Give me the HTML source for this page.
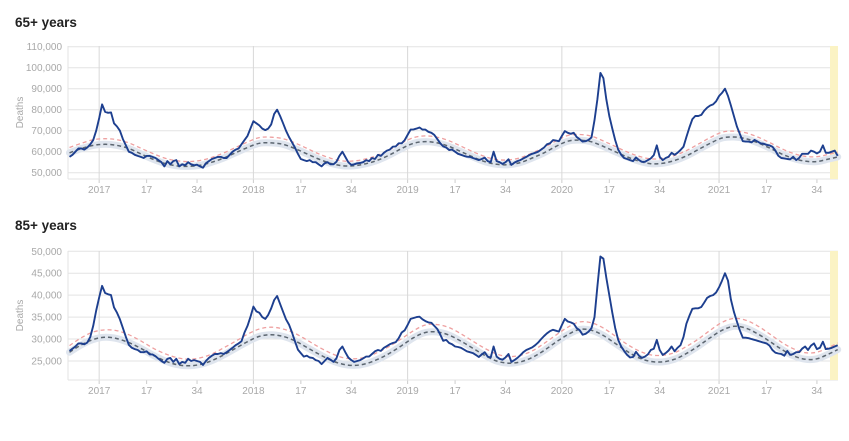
<!DOCTYPE html>
<html><head><meta charset="utf-8">
<style>
html,body{margin:0;padding:0;background:#fff;width:849px;height:441px;overflow:hidden}
svg{display:block;font-family:"Liberation Sans",sans-serif}
</style></head>
<body>
<svg id="chart" width="849" height="441" viewBox="0 0 849 441" xmlns="http://www.w3.org/2000/svg">
  <text x="15" y="27" font-size="13.5" font-weight="bold" fill="#222">65+ years</text>
  <text x="15" y="230" font-size="13.5" font-weight="bold" fill="#222">85+ years</text>
  <g id="p1"></g>
  <g id="p2"></g>
</svg>
<script>
// ---- data (weekly, thousands of deaths; index 0 ≈ 2016 week 42) ----
const yearLabels = ["2017","2018","2019","2020","2021"];
const yearStartIdx = [10,62,114,166,219];
const weekTickLabels = ["17","34"];
const weekTickOffsets = [16,33];

const deaths65 = [57.5,58.5,60,61.5,61.5,61,62,63.5,65.5,70,76,82.5,79,78.5,78.7,73.5,72,70,66,63,60,59.5,58.5,58,57.5,57,58,58,57.5,57,56,55,53,55.5,54,55.5,56,53,54,53.5,55,54,53.5,53.8,53,52.4,54.5,55.5,56.5,57,57.5,57.5,57,57,58.5,60,61,61.5,63.5,65.5,67.5,71,74.5,73.5,72.5,71,70.3,71,73,78,80,77,73.5,70,67,64.5,62,59,56.5,56,55.5,56,55,55,54,53,54.5,55,54,54,55.2,58,60,57.5,55,53.7,54,54.5,54.6,55,56,55.5,57,56.5,58.5,58,59.5,60.5,61,62.4,62.5,64,64,65.5,68,70.5,70.6,71,71.5,70.5,70.5,69.5,69,68,66,64,62.5,62,60.8,61,60,59,58.5,58,57.6,57.5,57,56.5,56,56.5,57.2,55.5,55,60,55.5,55,54.2,55,56.4,53.7,54.8,55.5,56,56.8,57.5,58.4,59,59.5,60,61,62,63.5,64,65.5,65.3,65,67.5,69.8,69,68.5,69,67,65.9,64.8,65,65.6,66.8,75,85,97.5,95,85,77,71,65.5,61,58.5,57,56.5,56,55.5,57.3,56,55.2,55.2,56,56.8,58.4,63,57.5,56,57,57.6,59.5,58.5,59.5,60.8,62.4,67,71.5,75.5,77,77,77.5,79.5,81,82,82.5,84,86.5,88,90,86.5,82,77,72,68.5,65,64.8,64.8,64.5,65.6,64.8,64,63.8,63.3,63,62.4,60.5,58,57,56.8,56.5,56.4,57.6,56,57,59,59,59,60.5,60,59.2,60,63,59.5,59.5,60,60.5,58];
const baselineIdx = [0,4,8,12,16,20,24,28,32,36,40,44,48,52,56,60,64,68,72,76,80,84,88,92,96,100,104,108,112,116,120,124,128,132,136,140,144,148,152,156,160,164,168,172,176,180,184,188,192,196,200,204,208,212,216,220,224,228,232,236,240,244,248,252,256,259];
const baseline65 = [59.5,61.5,63,63.5,63,61.5,59,56.5,54.5,53.3,53,53.5,55,57,59.5,62,64,64.2,63.5,61.5,59,56.5,54.5,53.3,53.3,54.3,56,58.5,61.5,64,64.8,64.2,62.5,60,57.5,55.3,54,53.8,54.8,57,59.5,62.5,65,65.5,64.7,62.5,60,57.5,55.5,54.3,54.5,55.8,58,61,64,66.5,67,66.2,64.3,61.8,59,56.8,55.5,55.3,56.5,57.5];
const upper65 = [62,64,65.7,66.2,65.7,64.2,61.7,59.2,57,55.7,55.3,55.8,57.3,59.4,62,64.6,66.7,66.9,66.2,64.2,61.6,59,56.9,55.6,55.6,56.6,58.4,61,64.1,66.7,67.5,66.9,65.2,62.6,60,57.7,56.3,56.1,57.1,59.4,62,65.1,67.7,68.2,67.4,65.1,62.5,59.9,57.8,56.6,56.8,58.2,60.5,63.6,66.7,69.3,69.8,69,67,64.4,61.5,59.2,57.8,57.6,58.8,59.8];

const deaths85 = [27.3,27.8,28.3,29,29,28.8,29.2,30.5,33,36.5,39.5,42.1,40.5,40.2,40,37.2,36,34.5,32.5,30.5,28.7,28,27.7,27.5,27,27,27.2,26.5,26.5,26.1,25.5,25,24.6,25.5,25.7,24.8,25.5,24.3,24.8,24.6,25.5,25,25.2,25,24.8,24.1,25,25.7,26.2,26.6,26.6,26.8,26.6,27,27.5,28,28.6,29,29.5,31.5,33,35,37.4,36.3,36,35,34.6,35.5,37,38.9,39.8,38,36.2,34.5,33.3,31.5,29.5,27.6,26.8,26,26.2,25.8,25.7,25.2,25,24.3,25,25.7,25.3,24.8,25.6,27.5,28.3,27,25.8,25.2,24.8,25,25.2,25.6,26,26,26.6,27.2,27.5,27.3,28,28.4,28.8,29.1,29.3,30.2,31.5,32,33.2,34.6,34.8,35,35.1,34.5,34.1,33.8,33.7,33,32.3,31,29.6,29.8,29.1,28.8,28.3,28.2,28,27.6,27.2,27,26.8,26.4,25.9,26.5,27,26,25.8,28.3,26,25.5,25.3,25.8,26.6,24.8,25.2,25.7,26.3,27,27.5,27.8,28.1,28.6,29.2,30,30.7,31.3,31.8,32.1,31.9,31.7,33.2,34.6,34,33.8,33.5,32.5,32,31,31.2,31.7,32.5,35,42,48.8,48.3,44,40,36,32.5,29.8,28.3,27.3,26.4,25.8,25.9,27.1,26.2,25.7,26,26.5,27.5,27.8,29.8,27.5,26.4,26.8,27.4,28.3,27.2,28,28.6,30.5,33.5,35.3,36.9,37,37,37.3,38.3,39.4,39.8,40,40.6,41.8,43.3,45,43.3,39,36.2,34,32,30.3,30.3,30.2,30,29.8,29.6,29.4,29.2,29,28.5,27.5,26.9,26.7,26.6,26.2,27.3,26.4,26.6,27,27,27.8,28.3,27.5,28.5,29,27.7,28,29.4,27.7,27.8,28,28.3,28.6];
const baseline85 = [27,28.7,29.9,30.4,30.1,29.2,27.9,26.4,25.1,24.2,23.9,24.2,25.1,26.4,27.9,29.4,30.6,31,30.6,29.6,28.1,26.6,25.2,24.3,24,24.4,25.4,26.8,28.5,30.3,31.5,31.6,30.9,29.5,27.9,26.3,25,24.5,24.8,25.8,27.4,29.3,31,32.2,32,30.8,29,27.2,25.7,24.9,24.8,25.4,26.7,28.4,30.3,32,32.9,32.5,31.2,29.5,27.7,26.2,25.4,25.5,26.6,27.6];
const upper85 = [28.5,30.3,31.6,32.1,31.9,31,29.6,28,26.7,25.8,25.4,25.7,26.6,28,29.5,31.1,32.3,32.7,32.3,31.3,29.8,28.2,26.8,25.8,25.5,25.9,27,28.4,30.1,31.9,33.2,33.3,32.6,31.2,29.5,27.9,26.6,26,26.3,27.3,29,30.9,32.7,33.9,33.7,32.5,30.7,28.8,27.3,26.4,26.3,26.9,28.3,30,32,33.8,34.7,34.3,33,31.2,29.3,27.8,26.9,27,28.1,29.1];

const ticks65 = [50,60,70,80,90,100,110];
const ticks85 = [25,30,35,40,45,50];

const NS = "http://www.w3.org/2000/svg";
function mk(tag, attrs, parent){
  const e = document.createElementNS(NS, tag);
  for (const k in attrs) e.setAttribute(k, attrs[k]);
  parent.appendChild(e);
  return e;
}
function fmt(v){ return (v*1000).toLocaleString("en-US"); }
function smoothPath(pts){
  let d = "M" + pts[0][0].toFixed(1) + "," + pts[0][1].toFixed(1);
  for (let i=0;i<pts.length-1;i++){
    const p0 = pts[Math.max(0,i-1)], p1 = pts[i], p2 = pts[i+1], p3 = pts[Math.min(pts.length-1,i+2)];
    const c1x = p1[0]+(p2[0]-p0[0])/6, c1y = p1[1]+(p2[1]-p0[1])/6;
    const c2x = p2[0]-(p3[0]-p1[0])/6, c2y = p2[1]-(p3[1]-p1[1])/6;
    d += " C"+c1x.toFixed(1)+","+c1y.toFixed(1)+" "+c2x.toFixed(1)+","+c2y.toFixed(1)+" "+p2[0].toFixed(1)+","+p2[1].toFixed(1);
  }
  return d;
}

function drawPanel(g, cfg){
  const L = 68, R = 838, T = cfg.top, B = cfg.bottom;
  const xs = i => 69.5 + i*2.966;
  const ys = v => cfg.y0 - (v - cfg.v0)*cfg.k;

  // horizontal gridlines + y labels
  cfg.ticks.forEach(t => {
    const y = ys(t);
    const gl = mk("line",{x1:L,x2:R,y1:y,y2:y,stroke:"#e3e3e3","stroke-width":1},g);
    
    
    const tl = mk("text",{x:L-6,y:y+3.5,"text-anchor":"end","font-size":10,fill:"#a8a8a8"},g);
    
    
    tl.textContent = fmt(t);
  });
  // left axis line
  const la = mk("line",{x1:L,x2:L,y1:T,y2:B,stroke:"#e3e3e3","stroke-width":1},g);
  
  
  // y axis title
  const cy = (T+B)/2;
  const yt = mk("text",{x:0,y:0,transform:"translate(23,"+cy+") rotate(-90)","text-anchor":"middle","font-size":10,fill:"#a8a8a8"},g);
  
  
  yt.textContent = "Deaths";

  // x ticks
  yearStartIdx.forEach((si, yi) => {
    const x = xs(si);
    const vl = mk("line",{x1:x,x2:x,y1:T,y2:B,stroke:"#d8d8d8","stroke-width":1},g);
    
    
    const marks = [[si, yearLabels[yi]]];
    weekTickOffsets.forEach((o, oi) => { if (si+o < 260) marks.push([si+o, weekTickLabels[oi]]); });
    marks.forEach(m => {
      const tx = xs(m[0]);
      const tk = mk("line",{x1:tx,x2:tx,y1:B,y2:B+4,stroke:"#ccc","stroke-width":1},g);
      
      
      const lb = mk("text",{x:tx,y:B+14,"text-anchor":"middle","font-size":10,fill:"#a8a8a8"},g);
      
      
      lb.textContent = m[1];
    });
  });
  const xa = mk("line",{x1:L,x2:R,y1:B,y2:B,stroke:"#e3e3e3","stroke-width":1},g);
  
  

  // incomplete-data highlight
  const hl = mk("rect",{x:830,y:T,width:R-830,height:B-T,fill:"#fbf3c4"},g);
  
  

  const basePts = baselineIdx.map((ix, j) => [xs(ix), ys(cfg.base[j])]);
  const upPts = baselineIdx.map((ix, j) => [xs(ix), ys(cfg.upper[j])]);

  const band = mk("path",{d:smoothPath(basePts),fill:"none",stroke:"#dfe5ee","stroke-width":7,"stroke-linecap":"round"},g);
  
  

  const up = mk("path",{d:smoothPath(upPts),fill:"none",stroke:"#eea0a0","stroke-width":1.3,"stroke-dasharray":"4,3"},g);
  
  

  const bl = mk("path",{d:smoothPath(basePts),fill:"none",stroke:"#5c6670","stroke-width":1.5,"stroke-dasharray":"4,3"},g);
  
  

  const d = cfg.series.map((v,i) => (i?"L":"M")+xs(i).toFixed(1)+","+ys(v).toFixed(1)).join(" ");
  const ln = mk("path",{d:d,fill:"none",stroke:"#1d3f8f","stroke-width":1.9,"stroke-linejoin":"round"},g);
  
  
}

drawPanel(document.getElementById("p1"), {top:46, bottom:179, y0:172.7, v0:50, k:2.1, ticks:ticks65, series:deaths65, base:baseline65, upper:upper65});
drawPanel(document.getElementById("p2"), {top:251, bottom:380, y0:361, v0:25, k:4.39, ticks:ticks85, series:deaths85, base:baseline85, upper:upper85});
</script>
</body></html>
